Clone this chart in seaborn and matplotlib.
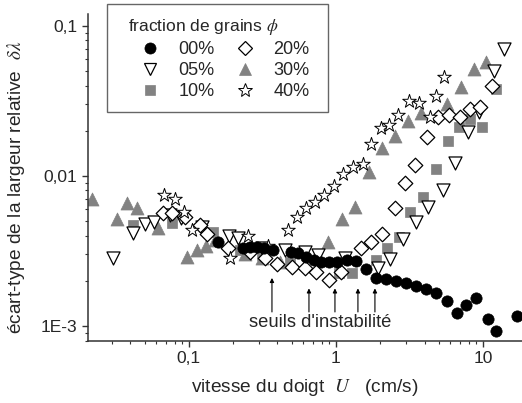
import numpy as np
import pandas as pd
import matplotlib
matplotlib.use("Agg")
import matplotlib.pyplot as plt
from matplotlib.lines import Line2D
from matplotlib.patches import Rectangle
from matplotlib.ticker import FixedLocator, FixedFormatter, NullFormatter, LogLocator
import seaborn as sns

# finger speed U (cm/s) and relative width deviation for each grain fraction
u_00 = [0.157, 0.233, 0.260, 0.290, 0.324, 0.373, 0.494, 0.551, 0.625, 0.708, 0.791, 0.896, 1.02, 1.19,
        1.37, 1.60, 1.87, 2.19, 2.56, 2.99, 3.50, 4.09, 4.79, 5.69, 6.65, 7.66, 8.96, 10.8, 12.3, 17.0]
d_00 = [0.00363, 0.00331, 0.00336, 0.00336, 0.00331, 0.00321, 0.00311, 0.00307, 0.00288, 0.00275,
        0.00267, 0.00267, 0.00267, 0.00275, 0.00271, 0.00240, 0.00209, 0.00206, 0.00200, 0.00194,
        0.00185, 0.00177, 0.00166, 0.00147, 0.00122, 0.00138, 0.00154, 0.00111, 0.000926, 0.00117]

u_05 = [0.0304, 0.0416, 0.0502, 0.0578, 0.0743, 0.0883, 0.123, 0.187, 0.215, 0.314, 0.450, 0.615,
        0.755, 1.15, 1.93, 2.33, 2.86, 3.50, 4.23, 5.34, 6.45, 7.91, 9.39, 11.9, 13.9]
d_05 = [0.00284, 0.00417, 0.00479, 0.00494, 0.00550, 0.00525, 0.00457, 0.00398, 0.00386, 0.00331,
        0.00321, 0.00311, 0.00298, 0.00284, 0.00244, 0.00280, 0.00380, 0.00494, 0.00621, 0.00807,
        0.0122, 0.0197, 0.0267, 0.0501, 0.0703]

u_10 = [0.0416, 0.0766, 0.146, 0.222, 0.314, 0.486, 1.05, 1.28, 1.87, 2.22, 2.68, 3.19, 3.91, 4.79,
        5.78, 6.87, 8.16, 9.85, 12.3]
d_10 = [0.00471, 0.00486, 0.00424, 0.00321, 0.00298, 0.00267, 0.00226, 0.00226, 0.00275, 0.00331,
        0.00392, 0.00575, 0.00724, 0.01113, 0.0171, 0.0212, 0.0240, 0.0212, 0.0380]

u_20 = [0.0665, 0.0766, 0.0939, 0.119, 0.133, 0.184, 0.260, 0.329, 0.397, 0.502, 0.615, 0.731, 0.896,
        1.08, 1.48, 1.73, 2.06, 2.52, 2.95, 3.45, 4.16, 4.94, 5.87, 6.98, 8.16, 9.54, 11.5]
d_20 = [0.00567, 0.00567, 0.00533, 0.00471, 0.00411, 0.00331, 0.00311, 0.00284, 0.00259, 0.00247,
        0.00244, 0.00229, 0.00203, 0.00229, 0.00331, 0.00363, 0.00411, 0.00612, 0.00898, 0.01184,
        0.0182, 0.0247, 0.0255, 0.0247, 0.0280, 0.0288, 0.0398]

u_30 = [0.0219, 0.0324, 0.0379, 0.0443, 0.0615, 0.0969, 0.113, 0.130, 0.150, 0.240, 0.314, 0.416,
        0.883, 1.10, 1.35, 1.68, 2.06, 2.52, 3.09, 3.79, 5.69, 7.08, 8.69, 10.5]
d_30 = [0.00703, 0.00517, 0.00661, 0.00612, 0.00450, 0.00288, 0.00321, 0.00341, 0.00375, 0.00302,
        0.00284, 0.00267, 0.00363, 0.00517, 0.00621, 0.01063, 0.01538, 0.01849, 0.0233, 0.0263,
        0.0302, 0.0392, 0.0516, 0.0575]

u_40 = [0.0676, 0.0803, 0.0925, 0.105, 0.190, 0.252, 0.345, 0.471, 0.543, 0.625, 0.720, 0.829, 0.969,
        1.12, 1.31, 1.53, 1.73, 2.02, 2.29, 2.64, 3.14, 3.67, 4.36, 4.79, 5.43]
d_40 = [0.00747, 0.00703, 0.00575, 0.00437, 0.00284, 0.00398, 0.00341, 0.00437, 0.00533, 0.00612,
        0.00671, 0.00747, 0.00858, 0.0103, 0.01148, 0.0120, 0.01633, 0.0209, 0.0219, 0.0255, 0.0316,
        0.0307, 0.0247, 0.0341, 0.0457]

# instability thresholds marked by arrows
seuil_u = [0.367, 0.655, 0.984, 1.41, 1.84]
seuil_tip = [0.00209, 0.00178, 0.00178, 0.00178, 0.00178]
seuil_base = 0.00124

labels = ["00%", "05%", "10%", "20%", "30%", "40%"]

GRAY = "#828282"
styles = {
    "00%": dict(marker="o", s=66, color="black", edgecolor="black", linewidth=0.5),
    "05%": dict(marker="v", s=88, color="white", edgecolor="black", linewidth=0.9),
    "10%": dict(marker="s", s=46, color=GRAY, edgecolor=GRAY, linewidth=0.5),
    "20%": dict(marker="D", s=55, color="white", edgecolor="black", linewidth=0.9),
    "30%": dict(marker="^", s=88, color=GRAY, edgecolor=GRAY, linewidth=0.5),
    "40%": dict(marker="*", s=105, color="white", edgecolor="black", linewidth=0.7),
}
legend_ms = {"o": 8.0, "v": 9.2, "s": 7.0, "D": 7.0, "^": 9.2, "*": 10.5}
series = {"00%": (u_00, d_00), "05%": (u_05, d_05), "10%": (u_10, d_10),
          "20%": (u_20, d_20), "30%": (u_30, d_30), "40%": (u_40, d_40)}

sns.set_style("ticks")
plt.rcParams["font.family"] = ["Liberation Sans", "DejaVu Sans"]
plt.rcParams["mathtext.fontset"] = "stix"

W, H = 522, 403
fig = plt.figure(figsize=(W / 100, H / 100), dpi=100)
ax = fig.add_axes([88 / W, 62 / H, 434 / W, 327 / H])

draw_order = ["10%", "30%", "05%", "20%", "40%", "00%"]
for key in draw_order:
    u, d = series[key]
    df = pd.DataFrame({"U": u, "dl": d})
    sns.scatterplot(data=df, x="U", y="dl", ax=ax, legend=False, **styles[key])

ax.set_xscale("log")
ax.set_yscale("log")
ax.set_xlim(0.0206, 18.4)
ax.set_ylim(7.94e-4, 0.120)

for x, tip in zip(seuil_u, seuil_tip):
    ax.annotate("", xy=(x, tip), xytext=(x, seuil_base),
                arrowprops=dict(arrowstyle="-|>", lw=0.8, color="black",
                                mutation_scale=6, shrinkA=0, shrinkB=0))
ax.text(0.257, 0.00105, "seuils d'instabilité", fontsize=13.2, ha="left", va="center")

ax.xaxis.set_major_locator(FixedLocator([0.1, 1, 10]))
ax.xaxis.set_major_formatter(FixedFormatter(["0,1", "1", "10"]))
ax.yaxis.set_major_locator(FixedLocator([1e-3, 1e-2, 1e-1]))
ax.yaxis.set_major_formatter(FixedFormatter(["1E-3", "0,01", "0,1"]))
ax.xaxis.set_minor_locator(LogLocator(base=10, subs=np.arange(2, 10), numticks=20))
ax.yaxis.set_minor_locator(LogLocator(base=10, subs=np.arange(2, 10), numticks=20))
ax.xaxis.set_minor_formatter(NullFormatter())
ax.yaxis.set_minor_formatter(NullFormatter())
ax.tick_params(axis="both", which="major", direction="out", length=4.5, width=1,
               labelsize=12.5, color="#333333", pad=3)
ax.tick_params(axis="both", which="minor", direction="out", length=2.5, width=0.8,
               color="#333333")

for side in ["top", "right"]:
    ax.spines[side].set_visible(False)
for side in ["left", "bottom"]:
    ax.spines[side].set_color("#333333")
    ax.spines[side].set_linewidth(1.1)

ax.set_xlabel(r"vitesse du doigt  $\mathit{U}$   (cm/s)", fontsize=13.8)
ax.xaxis.set_label_coords(0.5, -0.11)
ax.set_ylabel(r"écart-type de la largeur relative  $\delta\lambda$", fontsize=13.8)
ax.yaxis.set_label_coords(-0.14, 0.47)

# legend frame drawn as its own rectangle, entries placed inside it
fig.patches.append(Rectangle((107 / W, 1 - 112 / H), 221 / W, 108 / H,
                             transform=fig.transFigure, facecolor="white",
                             edgecolor="#666666", linewidth=1.0, zorder=5))
handles = []
for key in labels:
    st = styles[key]
    handles.append(Line2D([], [], linestyle="none", marker=st["marker"],
                          markersize=legend_ms[st["marker"]],
                          markerfacecolor=st["color"], markeredgecolor=st["edgecolor"],
                          markeredgewidth=st["linewidth"]))
leg = fig.legend(handles, labels, ncol=2, loc="upper left",
                 bbox_to_anchor=(128 / W, 1 - 17 / H),
                 title=r"fraction de grains $\phi$", title_fontsize=12.5, fontsize=13,
                 frameon=False, borderpad=0, borderaxespad=0,
                 handletextpad=0.36, columnspacing=0.45, labelspacing=0.22,
                 handlelength=2.44)
leg.set_zorder(6)
leg._legend_box.align = "left"

fig.savefig("out.png", dpi=100)
